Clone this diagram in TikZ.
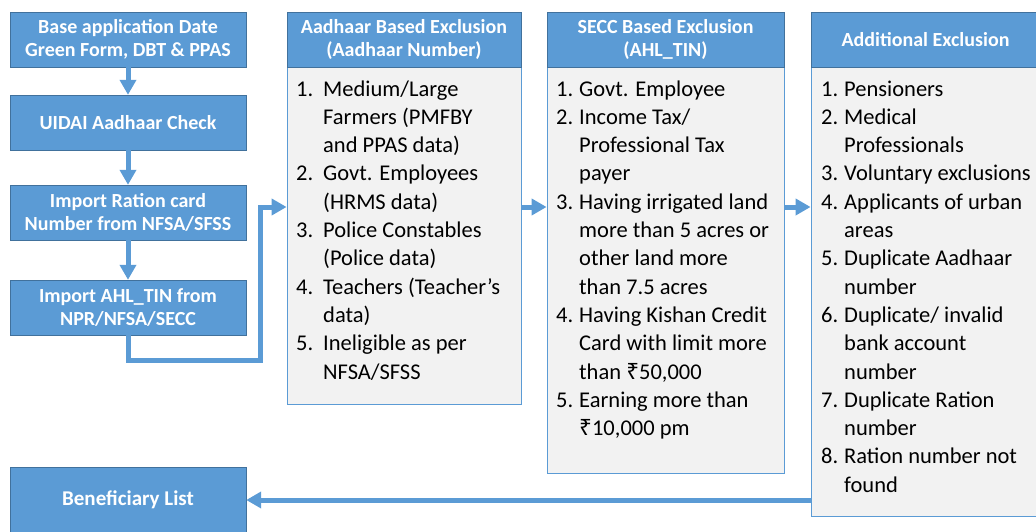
\documentclass[tikz,border=0pt]{standalone}
\usepackage{fontspec}
\setmainfont{Carlito}
\newfontfamily\rupeefont{Noto Sans}
\usetikzlibrary{arrows.meta}
\definecolor{boxblue}{HTML}{5B9BD5}
\definecolor{edgeblue}{HTML}{41719C}
\definecolor{listgray}{HTML}{F2F2F2}
\newcommand{\rupee}{{\rupeefont ₹}}
\newcommand{\listsize}{\fontsize{22.5}{28.3}\selectfont}

\begin{document}
\begin{tikzpicture}[x=1pt,y=-1pt,
		stepbox/.style={draw=edgeblue,fill=boxblue,text=white,align=center,inner sep=0pt,
			font=\bfseries\fontsize{20}{23}\selectfont,minimum width=236pt,minimum height=55pt},
		headbox/.style={draw=edgeblue,fill=boxblue,text=white,align=center,inner sep=0pt,
			font=\bfseries\fontsize{20}{23}\selectfont,minimum height=55pt},
		listbox/.style={draw=boxblue,fill=listgray,line width=0.8pt,inner sep=0pt},
		listtext/.style={anchor=north west,inner sep=0pt,font=\listsize,align=left},
		flow/.style={draw=boxblue,line width=5pt,-{Triangle[width=16pt,length=15pt]}}]
		\useasboundingbox (0,0) rectangle (1036,532);
		\clip (0,0) rectangle (1036,532);
		% left column
		\node[stepbox] (base) at (128,39.5) {Base application Date\\Green Form, DBT \& PPAS};
		\node[stepbox] (uidai) at (128,122.5) {UIDAI Aadhaar Check};
		\node[stepbox] (ration) at (128,212.5) {Import Ration card\\Number from NFSA/SFSS};
		\node[stepbox] (ahl) at (128,307.5) {Import AHL\_TIN from\\NPR/NFSA/SECC};
		\node[stepbox,minimum height=66pt,font=\bfseries\fontsize{21}{23}\selectfont] (ben) at (128,500) {Beneficiary List};
		% exclusion columns
		\node[listbox,minimum width=234pt,minimum height=337pt] (aadhaarbody) at (404,235.5) {};
		\node[headbox,minimum width=234pt] (aadhaarhead) at (404,39.5) {Aadhaar Based Exclusion\\(Aadhaar Number)};
		\node[listbox,minimum width=237pt,minimum height=406pt] (seccbody) at (665.5,270) {};
		\node[headbox,minimum width=237pt] (secchead) at (665.5,39.5) {SECC Based Exclusion\\(AHL\_TIN)};
		\node[listbox,minimum width=229pt,minimum height=449pt] (addbody) at (925.5,291.5) {};
		\node[headbox,minimum width=229pt] (addhead) at (925.5,39.5) {Additional Exclusion};
		\node[listtext] (aadhaarlist) at (296,76) {\begin{tabular}{@{}p{27pt}@{}l@{}}
				1.&Medium/Large\\
				&Farmers (PMFBY\\
				&and PPAS data)\\
				2.&Govt. Employees\\
				&(HRMS data)\\
				3.&Police Constables\\
				&(Police data)\\
				4.&Teachers (Teacher’s\\
				&data)\\
				5.&Ineligible as per\\
				&NFSA/SFSS
			\end{tabular}};
		\node[listtext] (secclist) at (556,76) {\begin{tabular}{@{}p{23pt}@{}l@{}}
				1.&Govt. Employee\\
				2.&Income Tax/\\
				&Professional Tax\\
				&payer\\
				3.&Having irrigated land\\
				&more than 5 acres or\\
				&other land more\\
				&than 7.5 acres\\
				4.&Having Kishan Credit\\
				&Card with limit more\\
				&than \rupee50,000\\
				5.&Earning more than\\
				&\rupee10,000 pm
			\end{tabular}};
		\node[listtext] (addlist) at (821,76) {\begin{tabular}{@{}p{23pt}@{}l@{}}
				1.&Pensioners\\
				2.&Medical\\
				&Professionals\\
				3.&Voluntary exclusions\\
				4.&Applicants of urban\\
				&areas\\
				5.&Duplicate Aadhaar\\
				&number\\
				6.&Duplicate/ invalid\\
				&bank account\\
				&number\\
				7.&Duplicate Ration\\
				&number\\
				8.&Ration number not\\
				&found
			\end{tabular}};
		% connectors
		\coordinate (lane) at (0,207);
		\coordinate (turn) at (260,360);
		\draw[flow] (base) -- (uidai);
		\draw[flow] (uidai) -- (ration);
		\draw[flow] (ration) -- (ahl);
		\draw[flow] (ahl.south) |- (turn) |- (aadhaarbody.west |- lane);
		\draw[flow] (aadhaarbody.east |- lane) -- (seccbody.west |- lane);
		\draw[flow] (seccbody.east |- lane) -- (addbody.west |- lane);
		\draw[flow] (addbody.west |- ben) -- (ben);
	\end{tikzpicture}
\end{document}
